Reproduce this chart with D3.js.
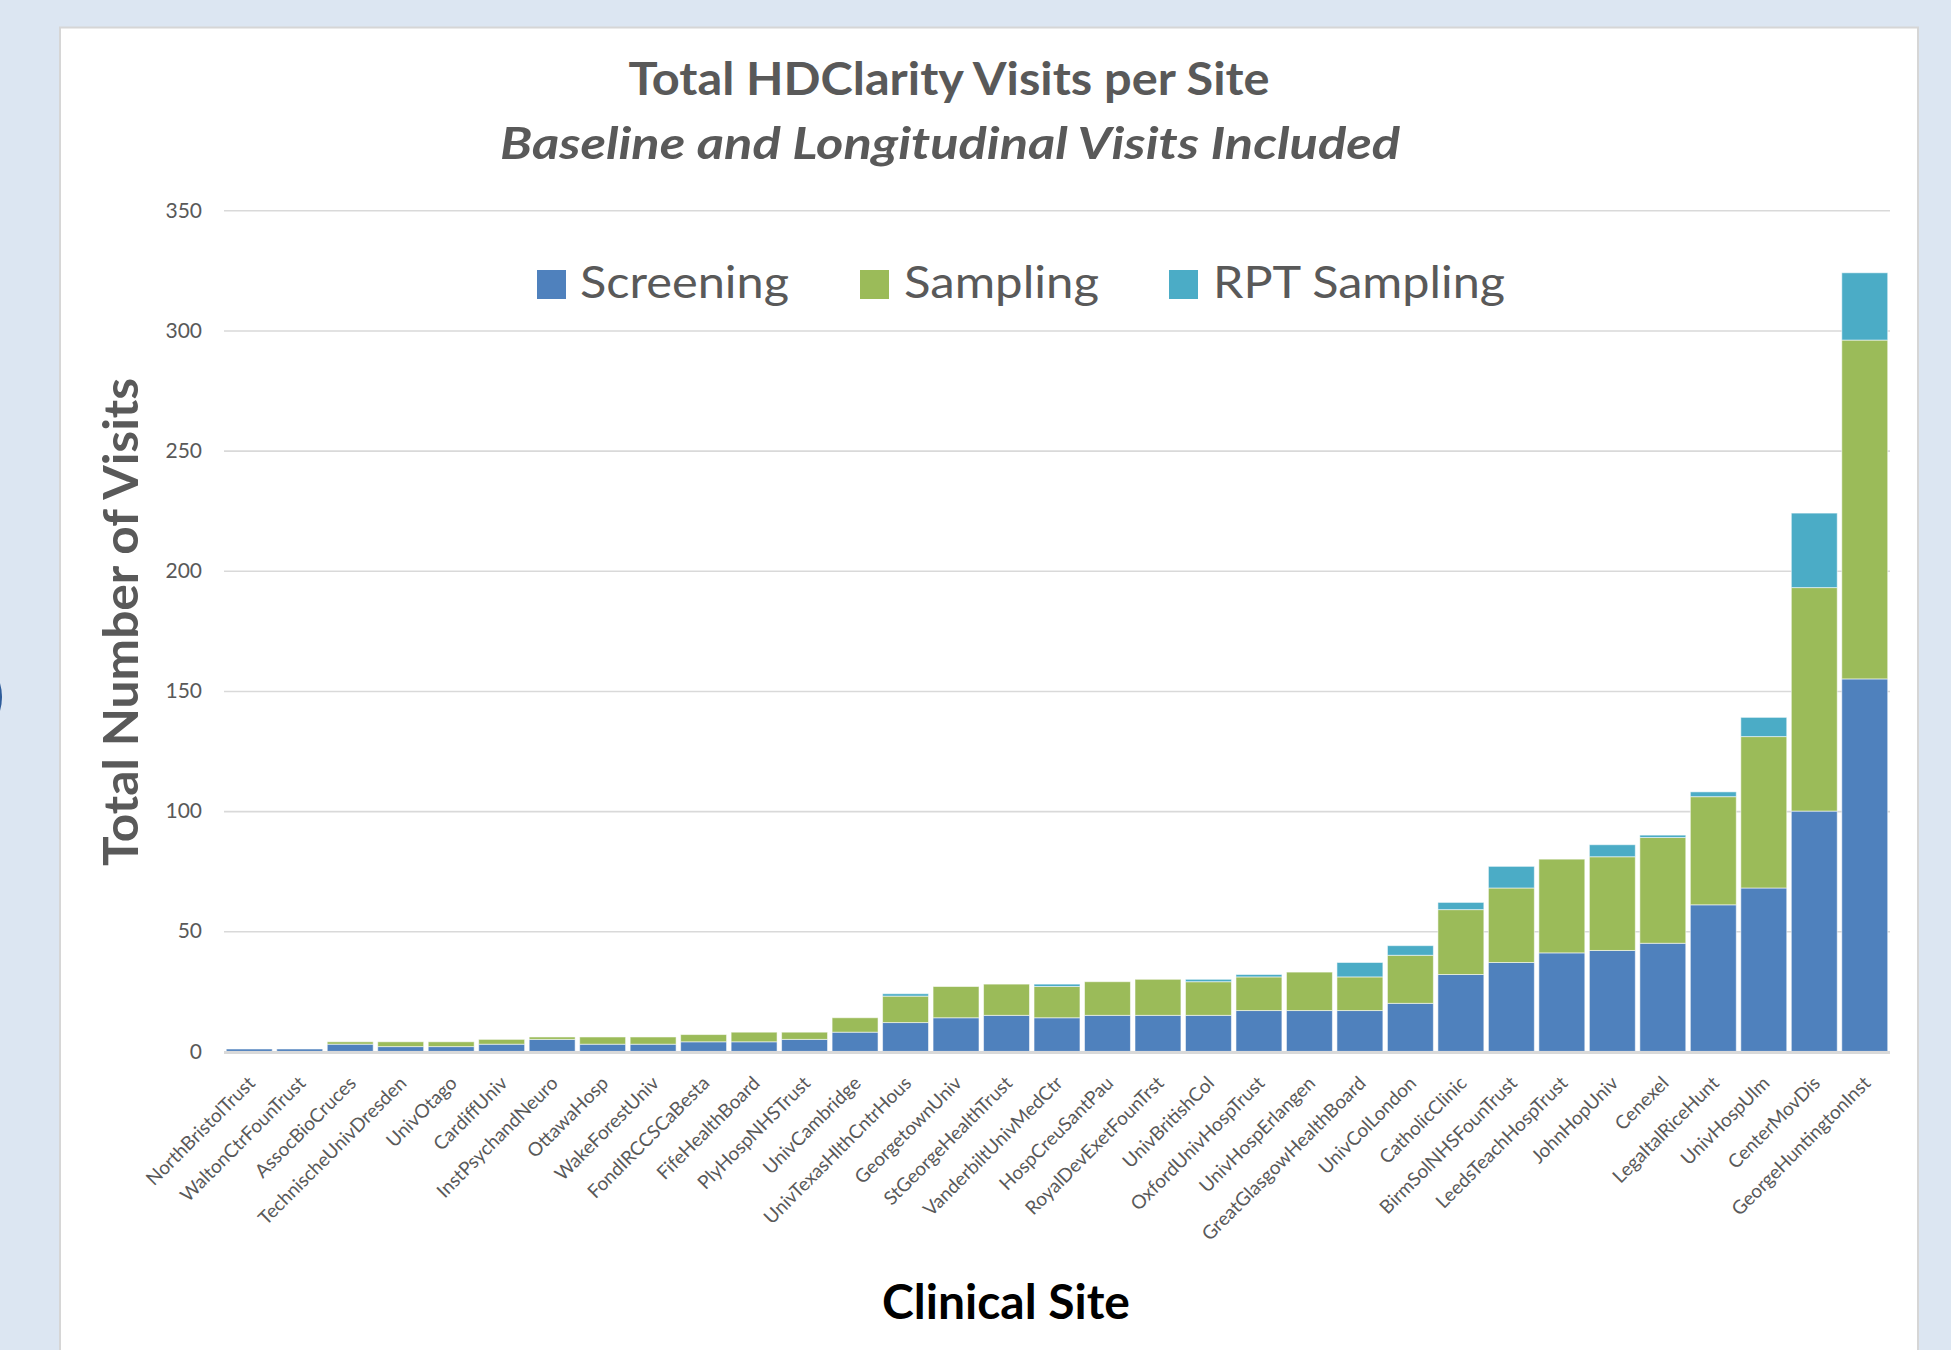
<!DOCTYPE html>
<html>
<head>
<meta charset="utf-8">
<script src="https://cdn.jsdelivr.net/npm/d3@7"></script>
<style>
  html, body { margin: 0; padding: 0; background: #dce6f2; }
  svg { display: block; font-family: Lato, "Open Sans", sans-serif; }
</style>
</head>
<body>
<div id="chart"></div>
<script>
// Sites, sorted by total visits
const sites = [
  "NorthBristolTrust", "WaltonCtrFounTrust", "AssocBioCruces", "TechnischeUnivDresden",
  "UnivOtago", "CardiffUniv", "InstPsychandNeuro", "OttawaHosp", "WakeForestUniv",
  "FondIRCCSCaBesta", "FifeHealthBoard", "PlyHospNHSTrust", "UnivCambridge",
  "UnivTexasHlthCntrHous", "GeorgetownUniv", "StGeorgeHealthTrust", "VanderbiltUnivMedCtr",
  "HospCreuSantPau", "RoyalDevExetFounTrst", "UnivBritishCol", "OxfordUnivHospTrust",
  "UnivHospErlangen", "GreatGlasgowHealthBoard", "UnivColLondon", "CatholicClinic",
  "BirmSolNHSFounTrust", "LeedsTeachHospTrust", "JohnHopUniv", "Cenexel",
  "LegaItalRiceHunt", "UnivHospUlm", "CenterMovDis", "GeorgeHuntingtonInst"
];
const screening   = [1, 1, 3, 2, 2, 3, 5, 3, 3, 4, 4, 5, 8, 12, 14, 15, 14, 15, 15, 15, 17, 17, 17, 20, 32, 37, 41, 42, 45, 61, 68, 100, 155];
const sampling    = [0, 0, 1, 2, 2, 2, 1, 3, 3, 3, 4, 3, 6, 11, 13, 13, 13, 14, 15, 14, 14, 16, 14, 20, 27, 31, 39, 39, 44, 45, 63, 93, 141];
const rptSampling = [0, 0, 0, 0, 0, 0, 0, 0, 0, 0, 0, 0, 0, 1, 0, 0, 1, 0, 0, 1, 1, 0, 6, 4, 3, 9, 0, 5, 1, 2, 8, 31, 28];

const seriesNames = ["Screening", "Sampling", "RPT Sampling"];
const seriesColors = ["#4f81bd", "#9bbb59", "#4bacc6"];
const yTicks = [0, 50, 100, 150, 200, 250, 300, 350];

const width = 1951;
const height = 1350;
const marginLeft = 224;
const marginRight = 61;
const plotTop = 210.3;
const plotBottom = 1051.4;

const rows = sites.map((s, i) => ({
  site: s,
  "Screening": screening[i],
  "Sampling": sampling[i],
  "RPT Sampling": rptSampling[i]
}));

const stacked = d3.stack().keys(seriesNames)(rows);

const x = d3.scaleBand()
    .domain(sites)
    .range([marginLeft, width - marginRight])
    .paddingInner(0.09)
    .paddingOuter(0.045);

const y = d3.scaleLinear()
    .domain([0, 350])
    .range([plotBottom, plotTop]);

const color = d3.scaleOrdinal(seriesNames, seriesColors);

const svg = d3.select("#chart").append("svg")
    .attr("width", width)
    .attr("height", height)
    .attr("viewBox", [0, 0, width, height]);

// page background and the white card
svg.append("rect")
    .attr("width", width).attr("height", height)
    .attr("fill", "#dce6f2");

svg.append("ellipse")
    .attr("cx", -40).attr("cy", 697)
    .attr("rx", 42).attr("ry", 46)
    .attr("fill", "#2e5c9a");

svg.append("rect")
    .attr("x", 60).attr("y", 27.5)
    .attr("width", 1858).attr("height", 1400)
    .attr("fill", "#fff")
    .attr("stroke", "#d6d6d6")
    .attr("stroke-width", 2);

// titles
svg.append("text")
    .attr("x", 949).attr("y", 95)
    .attr("text-anchor", "middle")
    .attr("fill", "#595959")
    .style("font-weight", "700")
    .style("font-size", "46px")
    .attr("textLength", 641)
    .attr("lengthAdjust", "spacingAndGlyphs")
    .text("Total HDClarity Visits per Site");

svg.append("text")
    .attr("x", 950).attr("y", 159)
    .attr("text-anchor", "middle")
    .attr("fill", "#595959")
    .style("font-weight", "700")
    .style("font-style", "italic")
    .style("font-size", "44px")
    .attr("textLength", 900)
    .attr("lengthAdjust", "spacingAndGlyphs")
    .text("Baseline and Longitudinal Visits Included");

// gridlines and y axis labels
const yAxis = d3.axisLeft(y)
    .tickValues(yTicks)
    .tickSize(-(width - marginRight - marginLeft))
    .tickPadding(22);

svg.append("g")
    .attr("transform", `translate(${marginLeft},0)`)
    .call(yAxis)
    .call(g => g.select(".domain").remove())
    .call(g => g.selectAll(".tick line")
        .attr("stroke", "#d9d9d9")
        .attr("stroke-width", d => d === 0 ? 0 : 1.6))
    .call(g => g.selectAll(".tick text")
        .attr("fill", "#595959")
        .style("font-family", "Lato, sans-serif")
        .style("font-size", "21px"));

// bars
svg.append("g")
  .selectAll("g")
  .data(stacked)
  .join("g")
    .attr("fill", d => color(d.key))
  .selectAll("rect")
  .data(d => d.filter(p => p[1] - p[0] > 0))
  .join("rect")
    .attr("x", p => x(p.data.site))
    .attr("y", p => y(p[1]))
    .attr("width", x.bandwidth())
    .attr("height", p => y(p[0]) - y(p[1]))
    .attr("stroke", "#ffffff")
    .attr("stroke-opacity", 0.55)
    .attr("stroke-width", 1);

// x axis baseline and rotated site labels
svg.append("line")
    .attr("x1", marginLeft).attr("x2", width - marginRight)
    .attr("y1", y(0) + 1).attr("y2", y(0) + 1)
    .attr("stroke", "#d9d9d9")
    .attr("stroke-width", 3);

svg.append("g")
  .selectAll("text")
  .data(sites)
  .join("text")
    .attr("transform", d => `translate(${x(d) + x.bandwidth() / 2 + 7},${plotBottom + 33}) rotate(-45)`)
    .attr("text-anchor", "end")
    .attr("fill", "#595959")
    .style("font-size", "19px")
    .text(d => d);

// legend
const legendItems = [
  {name: "Screening", sx: 537, tx: 580, tw: 209},
  {name: "Sampling", sx: 860, tx: 904, tw: 195},
  {name: "RPT Sampling", sx: 1169, tx: 1213, tw: 292}
];

const legend = svg.append("g")
  .selectAll("g")
  .data(legendItems)
  .join("g");

legend.append("rect")
    .attr("x", d => d.sx).attr("y", 270)
    .attr("width", 29).attr("height", 29)
    .attr("fill", d => color(d.name));

legend.append("text")
    .attr("x", d => d.tx).attr("y", 298)
    .attr("fill", "#595959")
    .style("font-size", "45px")
    .attr("textLength", d => d.tw)
    .attr("lengthAdjust", "spacingAndGlyphs")
    .text(d => d.name);

// axis titles
svg.append("text")
    .attr("transform", "translate(138,622) rotate(-90)")
    .attr("text-anchor", "middle")
    .attr("fill", "#595959")
    .style("font-weight", "700")
    .style("font-size", "48px")
    .attr("textLength", 488)
    .attr("lengthAdjust", "spacingAndGlyphs")
    .text("Total Number of Visits");

svg.append("text")
    .attr("x", 1006).attr("y", 1319)
    .attr("text-anchor", "middle")
    .attr("fill", "#000")
    .style("font-weight", "700")
    .style("font-size", "48px")
    .attr("textLength", 248)
    .attr("lengthAdjust", "spacingAndGlyphs")
    .text("Clinical Site");
</script>
</body>
</html>
